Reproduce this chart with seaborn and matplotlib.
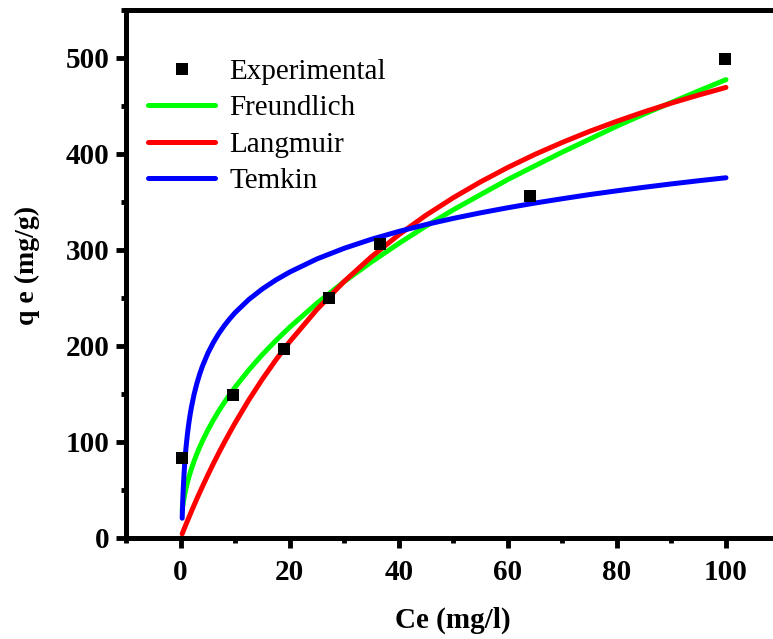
import numpy as np
import pandas as pd
import matplotlib
matplotlib.use("Agg")
import matplotlib.pyplot as plt
from matplotlib.lines import Line2D
from matplotlib.ticker import MultipleLocator
import seaborn as sns

# Experimental points
exp_ce = [0.2, 9.7, 18.9, 27.2, 36.5, 64.0, 99.8]
exp_qe = [83, 149, 197, 250, 306, 356, 498]

# Fitted isotherm curves
curve_ce = [0.3, 0.4, 0.5, 0.6, 0.75, 0.9, 1, 1.25, 1.5, 1.75, 2, 2.5, 3, 3.5,
            4, 5, 6, 7, 8, 9, 10, 12.5, 15, 17.5, 20, 25, 30, 35, 40, 45, 50,
            55, 60, 65, 70, 75, 80, 85, 90, 95, 100]
freundlich_qe = [28.8, 33.1, 36.9, 40.3, 44.9, 49.0, 51.6, 57.5, 62.8, 67.6,
                 72.1, 80.3, 87.7, 94.5, 100.8, 112.3, 122.6, 132.1, 140.9,
                 149.1, 156.9, 174.8, 190.9, 205.6, 219.3, 244.3, 266.8, 287.3,
                 306.5, 324.6, 341.5, 357.3, 373.0, 387.4, 401.6, 415.1, 428.6,
                 441.2, 453.3, 465.3, 477.0]
langmuir_qe = [4.3, 5.7, 7.2, 8.6, 10.7, 12.8, 14.2, 17.6, 21.0, 24.4, 27.8,
               34.4, 40.9, 47.2, 53.4, 65.5, 77.2, 88.4, 99.2, 109.6, 119.7,
               143.5, 165.3, 185.5, 204.2, 237.8, 267.0, 292.7, 315.5, 335.9,
               354.1, 370.6, 385.6, 399.3, 411.7, 423.2, 433.7, 443.5, 452.6,
               461.0, 468.9]
temkin_qe = [20.6, 38.1, 51.7, 62.8, 76.5, 87.6, 94.0, 107.6, 118.7, 128.1,
             136.3, 149.9, 161.0, 170.4, 178.6, 192.2, 203.3, 212.7, 220.8,
             228.0, 234.5, 248.1, 259.2, 268.6, 276.7, 290.4, 301.5, 310.9,
             319.0, 326.2, 332.6, 338.4, 343.7, 348.6, 353.1, 357.4, 361.3,
             365.0, 368.5, 371.8, 374.9]

model_names = ["Freundlich", "Langmuir", "Temkin"]
model_colors = ["#00FF00", "#FF0000", "#0000FF"]

sns.set_style("ticks")
plt.rcParams["font.family"] = ["Liberation Serif", "DejaVu Serif"]
plt.rcParams["text.color"] = "black"
plt.rcParams["axes.labelcolor"] = "black"
plt.rcParams["xtick.color"] = "black"
plt.rcParams["ytick.color"] = "black"

W, H = 773, 639
fig = plt.figure(figsize=(W / 100, H / 100), dpi=100)
left_px, right_px, top_px, bottom_px = 126, 780.5, 9.5, 538
ax = fig.add_axes([left_px / W, 1 - bottom_px / H,
                   (right_px - left_px) / W, (bottom_px - top_px) / H])

curves = pd.DataFrame({
    "Ce": curve_ce * 3,
    "qe": freundlich_qe + langmuir_qe + temkin_qe,
    "model": [m for m in model_names for _ in curve_ce],
})
sns.lineplot(data=curves, x="Ce", y="qe", hue="model", hue_order=model_names,
             palette=model_colors, linewidth=3.6, ax=ax, legend=False,
             sort=False, zorder=2)
for ln in ax.lines:
    ln.set_solid_capstyle("round")
    ln.set_solid_joinstyle("round")

exp_df = pd.DataFrame({"Ce": exp_ce, "qe": exp_qe})
sns.scatterplot(data=exp_df, x="Ce", y="qe", marker="s", s=74, color="black",
                linewidth=0, ax=ax, zorder=3, legend=False)

ax.set_xlim(-10, 110)
ax.set_ylim(0, 550)
ax.xaxis.set_major_locator(MultipleLocator(20))
ax.xaxis.set_minor_locator(MultipleLocator(10))
ax.yaxis.set_major_locator(MultipleLocator(100))
ax.yaxis.set_minor_locator(MultipleLocator(50))

for side in ["left", "bottom", "top", "right"]:
    ax.spines[side].set_linewidth(3.6)
    ax.spines[side].set_color("black")

ax.tick_params(which="major", direction="out", length=7, width=3.5,
               labelsize=21, colors="black", top=False, right=False)
ax.tick_params(which="minor", direction="out", length=3.7, width=3.5,
               top=False, right=False)
ax.tick_params(axis="x", which="major", pad=8)
ax.tick_params(axis="y", which="major", pad=5)
for lab in ax.get_xticklabels() + ax.get_yticklabels():
    lab.set_fontweight("bold")

ax.set_xlabel("Ce (mg/l)", fontsize=21, fontweight="bold")
ax.set_ylabel("q e (mg/g)", fontsize=20, fontweight="bold")
ax.xaxis.set_label_coords(0.5, -0.13)
ax.yaxis.set_label_coords(-0.132, 0.515)

handles = [Line2D([], [], marker="s", linestyle="none", color="black",
                  markersize=8.6, markeredgewidth=0)]
handles += [Line2D([], [], color=c, linewidth=3.6) for c in model_colors]
ax.legend(handles, ["Experimental"] + model_names, loc="upper left",
          bbox_to_anchor=(0.0336, 0.907), frameon=False, fontsize=21,
          handlelength=2.3, handletextpad=0.5, labelspacing=0.34,
          borderpad=0, borderaxespad=0)

fig.savefig("out.png", dpi=100)
